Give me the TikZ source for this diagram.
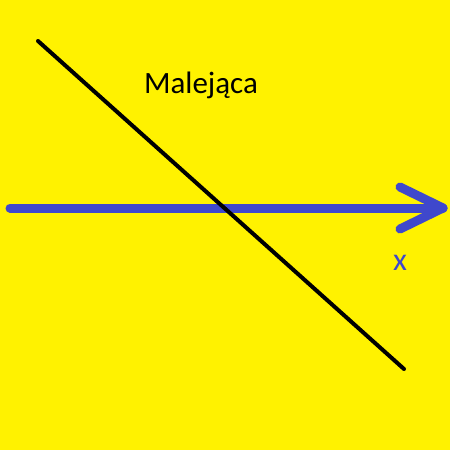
\documentclass[tikz,border=0pt]{standalone}
\usepackage{fontspec}
\setmainfont{Carlito}
\usetikzlibrary{calc}
\definecolor{PaintYellow}{RGB}{255, 242, 0}
\definecolor{PaintBlue}{RGB}{63, 72, 204}

\begin{document}
\begin{tikzpicture}[
                    x=1pt, y=-1pt,
                    axis/.style={draw=PaintBlue, line width=9pt, line cap=round, line join=round},
                    graph/.style={draw=black, line width=4pt, line cap=round},
                    label/.style={inner sep=0pt, anchor=base}
                ]
                    \fill[PaintYellow] (0,0) rectangle (450,450);
                    \useasboundingbox (0,0) rectangle (450,450);

                    \coordinate (lstart) at (38,41);
                    \coordinate (lend) at (404,369);
                    \coordinate (xstart) at (10,208);
                    \coordinate (xend) at (443,208);
                    \coordinate (tipup) at (400,187);
                    \coordinate (tipdown) at (400,229);

                    \node[label, font=\fontsize{31}{36}\selectfont] (name) at (201,93) {Malejąca};
                    \node[label, text=PaintBlue, font=\fontsize{32}{36}\selectfont] (xlab) at (400,270) {x};

                    \draw[axis] (xstart) -- (xend);
                    \draw[axis] (tipup) -- (xend) -- (tipdown);
                    \draw[graph] (lstart) -- (lend);
                \end{tikzpicture}
\end{document}
